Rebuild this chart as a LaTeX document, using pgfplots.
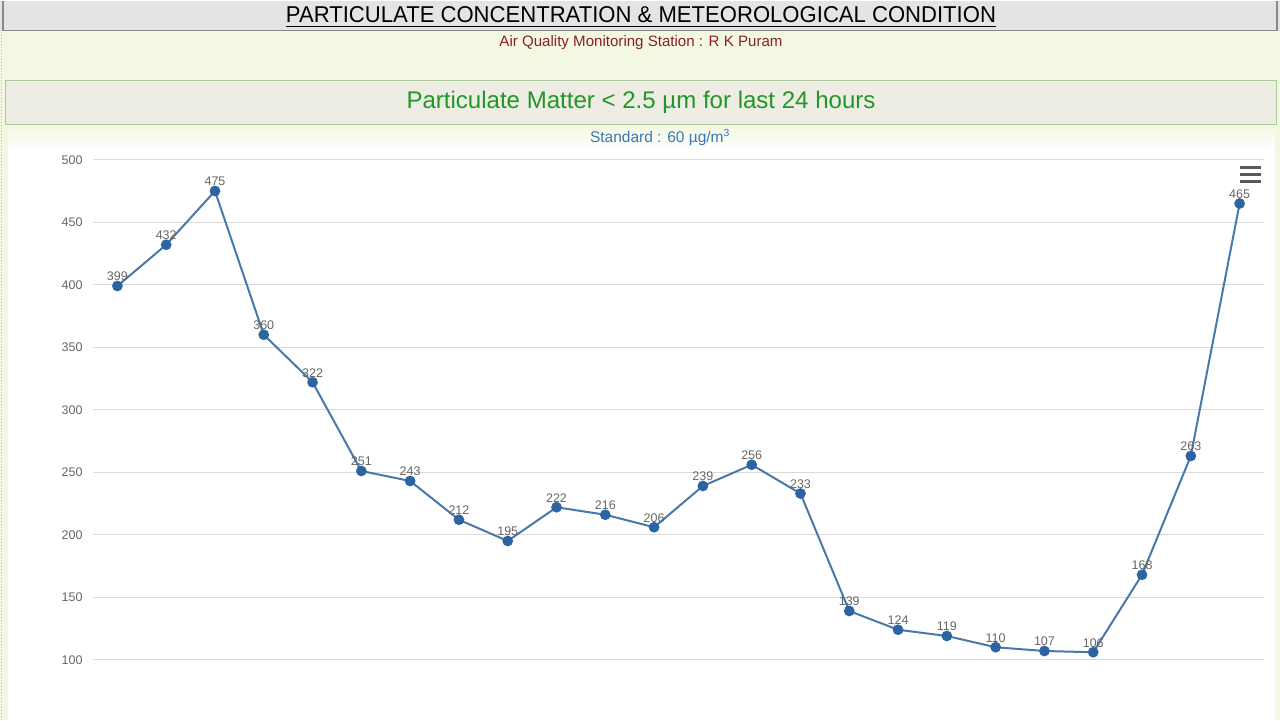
\documentclass[border=0pt]{standalone}
\usepackage{fontspec}
\setmainfont{Liberation Sans}
\usepackage{graphicx}
\usepackage{pgfplots}
\pgfplotsset{compat=1.18}

\definecolor{bgGreen}{HTML}{F2F8E2}
\definecolor{hdrGray}{HTML}{E4E4E4}
\definecolor{hdrBorder}{HTML}{8A8A8A}
\definecolor{boxFill}{HTML}{EEEDE3}
\definecolor{boxBorder}{HTML}{A9C79A}
\definecolor{titleGreen}{HTML}{23952B}
\definecolor{stationRed}{HTML}{8B2323}
\definecolor{stdBlue}{HTML}{3A78B5}
\definecolor{lineBlue}{HTML}{4A79A9}
\definecolor{markBlue}{HTML}{2B64A0}
\definecolor{labelGray}{HTML}{666666}
\definecolor{gridGray}{HTML}{DADADA}

\begin{document}
\begin{tikzpicture}[x=1pt,y=1pt]
% page background and panels (y = 719 - image row)
\fill[bgGreen] (0,0) rectangle (1280,719);
\fill[white] (8,0) rectangle (1275,594);
\shade[top color=bgGreen, bottom color=white] (8,569) rectangle (1275,594);
\draw[olive!50, dotted, line width=1pt] (1.5,0) -- (1.5,689);

% header bar
\fill[hdrGray] (0,689) rectangle (1280,719);
\draw[hdrBorder, line width=1.5pt] (3,719) -- (3,689) -- (1277,689) -- (1277,719);
\node[inner sep=0] at (641,705)
  {\resizebox{710pt}{16pt}{PARTICULATE CONCENTRATION \& METEOROLOGICAL CONDITION}};
\draw[black, line width=1.3pt] (286,693) -- (996,693);

\node[inner sep=0, text=stationRed] at (641,677)
  {\resizebox{283pt}{!}{\fontsize{12}{14}\selectfont Air Quality Monitoring Station : R K Puram}};

% sub-title box
\draw[boxBorder, fill=boxFill, line width=1pt] (5,595) rectangle (1276,639);
\node[inner sep=0, text=titleGreen] at (641,617)
  {\resizebox{469pt}{!}{\fontsize{22}{26}\selectfont Particulate Matter < 2.5 µm for last 24 hours}};
\node[inner sep=0, text=stdBlue] at (660,582)
  {\resizebox{140pt}{!}{\fontsize{12}{14}\selectfont Standard : 60 µg/m\textsuperscript{3}}};

% menu icon
\foreach \yy in {552,545,538}
  \draw[black!65, line width=2.6pt] (1240,\yy) -- (1261,\yy);

\begin{axis}[
  at={(93pt,0pt)}, anchor=south west,
  scale only axis,
  width=1171pt, height=560pt,
  xmin=-0.5, xmax=23.5,
  ymin=52, ymax=500,
  axis line style={draw=none},
  tick style={draw=none},
  xtick=\empty,
  ytick={100,150,...,500},
  ymajorgrids,
  grid style={gridGray, line width=1.4pt},
  yticklabel style={text=labelGray, font=\fontsize{12.5}{14}\selectfont, xshift=-7pt},
  /pgf/number format/assume math mode=true,
  clip=false,
]
\addplot[lineBlue, line width=2pt, mark=*, mark size=4.3pt,
  mark options={fill=markBlue, draw=markBlue},
  nodes near coords,
  every node near coord/.style={anchor=base, yshift=5pt, text=labelGray,
    font=\fontsize{12.5}{14}\selectfont}]
coordinates {
(0,399) (1,432) (2,475) (3,360) (4,322) (5,251) (6,243) (7,212)
(8,195) (9,222) (10,216) (11,206) (12,239) (13,256) (14,233) (15,139)
(16,124) (17,119) (18,110) (19,107) (20,106) (21,168) (22,263) (23,465)
};
\end{axis}
\end{tikzpicture}
\end{document}
